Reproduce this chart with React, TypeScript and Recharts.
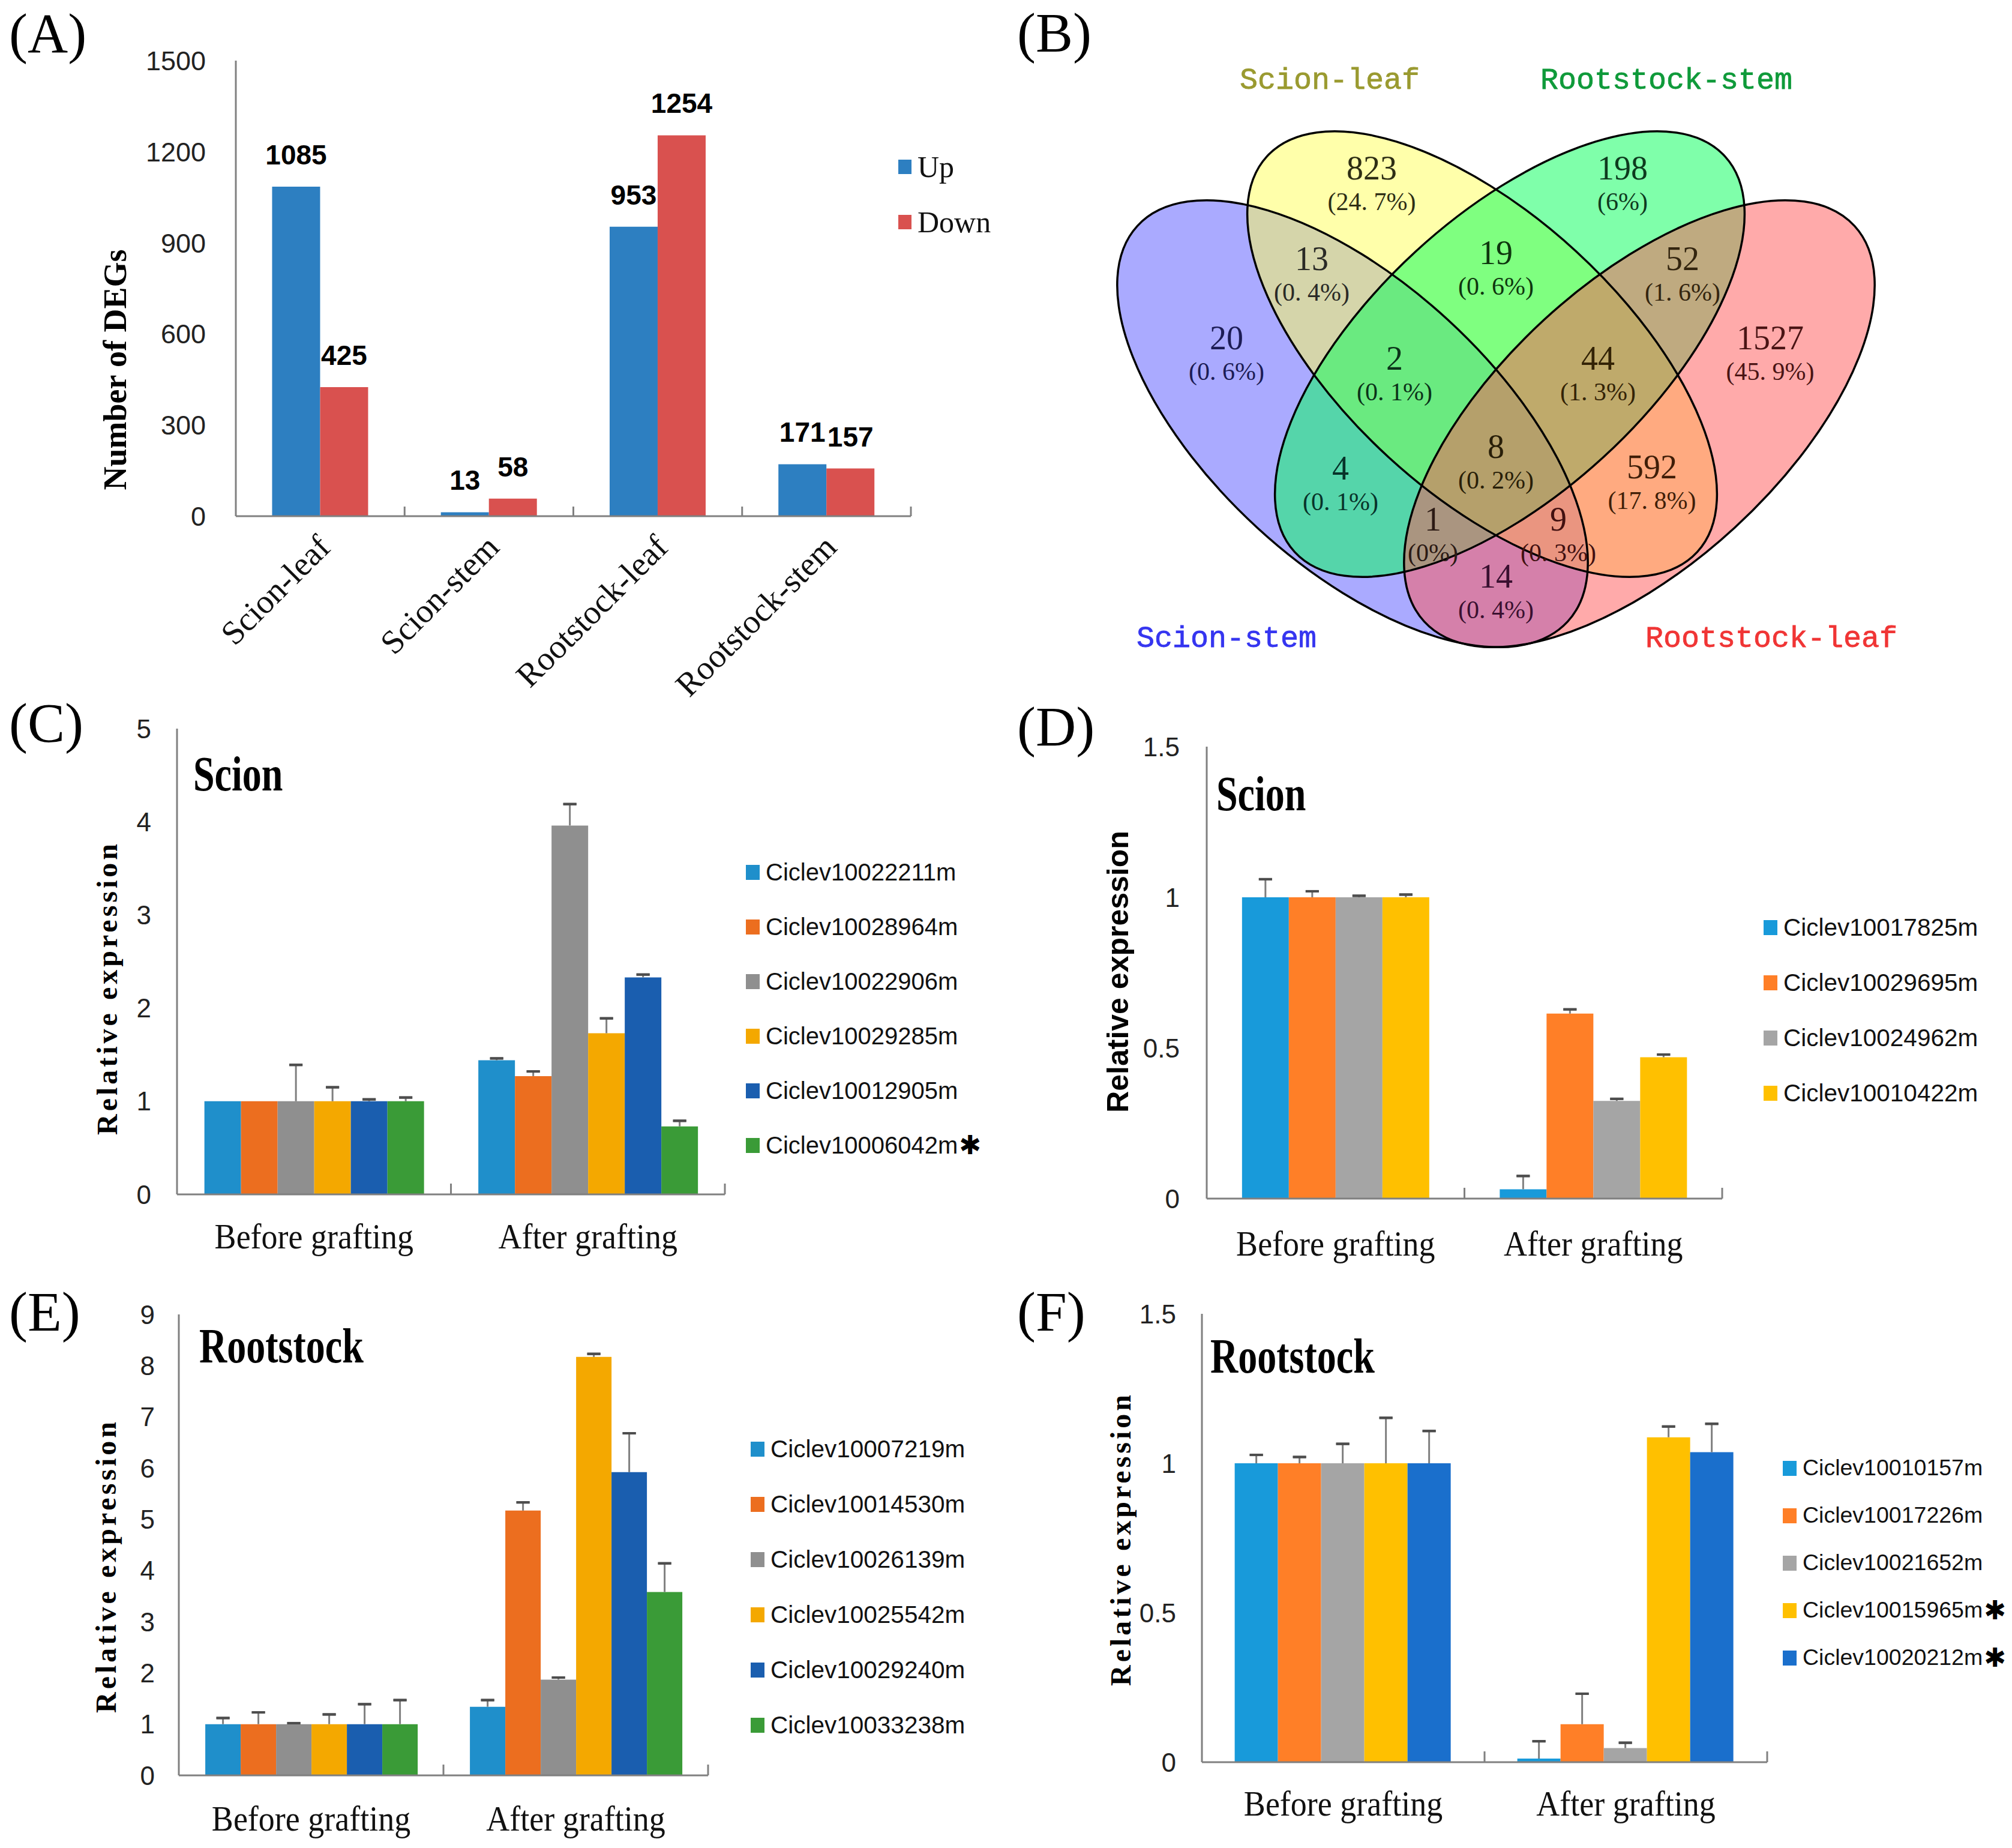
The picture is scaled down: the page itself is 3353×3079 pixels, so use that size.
import React from 'react';
import {
  BarChart,
  Bar,
  XAxis,
  YAxis,
  LabelList,
  Legend,
  ErrorBar,
  ScatterChart,
  Scatter,
} from 'recharts';

const SERIF = "'Liberation Serif','Times New Roman',serif";
const SANS = "'Liberation Sans',Arial,sans-serif";
const MONO = "'Liberation Mono','Courier New',monospace";
const STAR = "'DejaVu Sans',sans-serif";
const AXIS = '#808080';

// ---------------- Panel A data ----------------
const degCategories = ['Scion-leaf', 'Scion-stem', 'Rootstock-leaf', 'Rootstock-stem'];
const degSeries = ['Up', 'Down'];
const degUp = [1085, 13, 953, 171];
const degDown = [425, 58, 1254, 157];
const degTicks = [0, 300, 600, 900, 1200, 1500];

// ---------------- Panel B data ----------------
const vennSetNames = ['Scion-stem', 'Scion-leaf', 'Rootstock-stem', 'Rootstock-leaf'];
const vennCounts = [20, 823, 198, 1527, 13, 19, 52, 2, 44, 4, 8, 592, 1, 9, 14];
const vennPercents = ['0. 6%', '24. 7%', '6%', '45. 9%', '0. 4%', '0. 6%', '1. 6%', '0. 1%', '1. 3%', '0. 1%', '0. 2%', '17. 8%', '0%', '0. 3%', '0. 4%'];

// ---------------- Panels C-F data ----------------
const graftGroups = ['Before grafting', 'After grafting'];

const cGenes = ['Ciclev10022211m', 'Ciclev10028964m', 'Ciclev10022906m', 'Ciclev10029285m', 'Ciclev10012905m', 'Ciclev10006042m'];
const cStarred = [false, false, false, false, false, true];
const cBefore = [1, 1, 1, 1, 1, 1];
const cBeforeErr = [0, 0, 0.39, 0.15, 0.02, 0.04];
const cAfter = [1.44, 1.27, 3.96, 1.73, 2.33, 0.73];
const cAfterErr = [0.02, 0.05, 0.23, 0.16, 0.03, 0.06];
const cTicks = [0, 1, 2, 3, 4, 5];

const dGenes = ['Ciclev10017825m', 'Ciclev10029695m', 'Ciclev10024962m', 'Ciclev10010422m'];
const dStarred = [false, false, false, false];
const dBefore = [1, 1, 1, 1];
const dBeforeErr = [0.06, 0.02, 0.005, 0.009];
const dAfter = [0.031, 0.614, 0.324, 0.469];
const dAfterErr = [0.044, 0.014, 0.007, 0.009];
const dTicks = [0, 0.5, 1, 1.5];

const eGenes = ['Ciclev10007219m', 'Ciclev10014530m', 'Ciclev10026139m', 'Ciclev10025542m', 'Ciclev10029240m', 'Ciclev10033238m'];
const eStarred = [false, false, false, false, false, false];
const eBefore = [1, 1, 1, 1, 1, 1];
const eBeforeErr = [0.12, 0.23, 0.02, 0.19, 0.39, 0.47];
const eAfter = [1.34, 5.17, 1.87, 8.17, 5.92, 3.58];
const eAfterErr = [0.13, 0.16, 0.04, 0.06, 0.76, 0.56];
const eTicks = [0, 1, 2, 3, 4, 5, 6, 7, 8, 9];

const fGenes = ['Ciclev10010157m', 'Ciclev10017226m', 'Ciclev10021652m', 'Ciclev10015965m', 'Ciclev10020212m'];
const fStarred = [false, false, false, true, true];
const fBefore = [1, 1, 1, 1, 1];
const fBeforeErr = [0.028, 0.021, 0.065, 0.152, 0.108];
const fAfter = [0.012, 0.127, 0.047, 1.087, 1.037];
const fAfterErr = [0.058, 0.102, 0.018, 0.036, 0.095];
const fTicks = [0, 0.5, 1, 1.5];

// ---------------- styles / layout ----------------
const degColors = ['#2D7FC1', '#D9514F'];
const cePalette = ['#1F8FCB', '#EC6E1F', '#8F8F8F', '#F4A800', '#1A5EAF', '#3A9B37'];
const dPalette = ['#189ADA', '#FF7F27', '#A5A5A5', '#FFC000'];
const fPalette = ['#189ADA', '#FF7F27', '#A5A5A5', '#FFC000', '#1A6FCC'];

const vennEllipseLayout = [
  { x: 2254, y: 706, rx: 487, ry: 235, rot: 42.6, fill: '#5555FF' },
  { x: 2470, y: 590, rx: 487, ry: 232, rot: 42.6, fill: '#FFFF55' },
  { x: 2516, y: 590, rx: 487, ry: 232, rot: -42.6, fill: '#00FF55' },
  { x: 2732, y: 706, rx: 487, ry: 235, rot: -42.6, fill: '#FF5555' },
];
const vennSetLabelLayout = [
  { x: 2044, y: 1078, color: '#3535F0' },
  { x: 2216, y: 148, color: '#9A9A30' },
  { x: 2777, y: 148, color: '#0F9A3A' },
  { x: 2952, y: 1078, color: '#F03535' },
];
const vennRegionLayout = [
  { x: 2044, y: 568, color: '#1C1C55' },
  { x: 2286, y: 285, color: '#2E2E14' },
  { x: 2704, y: 285, color: '#0E3A1E' },
  { x: 2950, y: 568, color: '#4A1414' },
  { x: 2186, y: 436, color: '#2A2A26' },
  { x: 2493, y: 426, color: '#0E360E' },
  { x: 2804, y: 436, color: '#33250F' },
  { x: 2324, y: 602, color: '#0B3319' },
  { x: 2663, y: 602, color: '#332306' },
  { x: 2234, y: 785, color: '#08332A' },
  { x: 2493, y: 749, color: '#281E08' },
  { x: 2753, y: 783, color: '#401E08' },
  { x: 2388, y: 870, color: '#2C1A14' },
  { x: 2597, y: 870, color: '#421010' },
  { x: 2493, y: 965, color: '#3A1030' },
];

// ---------------- helpers ----------------
function buildRows(before: number[], after: number[], beforeErr: number[], afterErr: number[]) {
  return graftGroups.map((g, gi) => {
    const vals = gi === 0 ? before : after;
    const errs = gi === 0 ? beforeErr : afterErr;
    const row: any = { group: g };
    vals.forEach((v, i) => {
      const e = errs[i];
      row['v' + i] = v;
      row['s' + i] = e > 0 ? [0, e] : null;
      row['c' + i] = e > 0 ? [-e, e] : null;
    });
    return row;
  });
}

function YTitle(props: any) {
  const { tx, ty, text, fs, ff, ls } = props;
  return (
    <text
      x={tx}
      y={ty}
      transform={`rotate(-90 ${tx} ${ty})`}
      textAnchor="middle"
      fontFamily={ff}
      fontWeight="bold"
      fontSize={fs}
      letterSpacing={ls}
      fill="#000"
    >
      {text}
    </text>
  );
}

function CatTick(props: any) {
  const { x, y, payload, band, dy } = props;
  const bx = x + band / 2;
  return (
    <g>
      <text
        transform={`translate(${x} ${y + dy}) scale(1 1.1)`}
        textAnchor="middle"
        fontFamily={SERIF}
        fontSize={54}
        fill="#111"
      >
        {payload.value}
      </text>
      <line x1={bx} x2={bx} y1={y} y2={y - 18} stroke={AXIS} strokeWidth={3} />
    </g>
  );
}

function RotTick(props: any) {
  const { x, y, payload, band } = props;
  const ax = x + 20;
  const ay = y + 55;
  const bx = x + band / 2;
  return (
    <g>
      <text
        x={ax}
        y={ay}
        transform={`rotate(-45 ${ax} ${ay})`}
        textAnchor="end"
        fontFamily={SERIF}
        fontSize={56}
        fill="#111"
      >
        {payload.value}
      </text>
      <line x1={bx} x2={bx} y1={y} y2={y - 16} stroke={AXIS} strokeWidth={3} />
    </g>
  );
}

function makeLegend(opts: any) {
  return (props: any) => {
    const order: string[] = opts.order;
    const payload = (props.payload || []).slice().sort(
      (a: any, b: any) => order.indexOf(a.value) - order.indexOf(b.value)
    );
    return (
      <div>
        {payload.map((p: any) => {
          const idx = order.indexOf(p.value);
          return (
            <div
              key={p.value}
              style={{ height: opts.rowH, display: 'flex', alignItems: 'center', whiteSpace: 'nowrap' }}
            >
              <span
                style={{
                  display: 'inline-block',
                  flex: 'none',
                  width: opts.sqW,
                  height: opts.sqH,
                  background: p.color,
                  marginRight: opts.gap,
                }}
              />
              <span style={{ fontFamily: opts.font, fontSize: opts.fontSize, color: '#111', lineHeight: 1 }}>
                {p.value}
              </span>
              {opts.starred && opts.starred[idx] ? (
                <span style={{ fontFamily: STAR, fontWeight: 'bold', fontSize: 44, lineHeight: 1, marginLeft: 2 }}>
                  ✱
                </span>
              ) : null}
            </div>
          );
        })}
      </div>
    );
  };
}

// ---------------- Panel A ----------------
function DegPanel() {
  const rows = degCategories.map((c, i) => ({ cat: c, up: degUp[i], down: degDown[i] }));
  const W = 1680;
  const H = 1200;
  const margin = { top: 101, right: 162, bottom: 90, left: 0 };
  const yW = 393;
  const band = (W - margin.left - margin.right - yW) / degCategories.length;
  const labelStyle = { fontFamily: SANS, fontWeight: 'bold' as const, fontSize: 46, fill: '#000' };
  return (
    <div style={{ position: 'absolute', left: 0, top: 0 }}>
      <BarChart width={W} height={H} data={rows} margin={margin} barGap={0} barCategoryGap="21.5%">
        <XAxis
          dataKey="cat"
          interval={0}
          tickLine={false}
          tickSize={0}
          tickMargin={0}
          height={250}
          axisLine={{ stroke: AXIS, strokeWidth: 3 }}
          tick={(p: any) => <RotTick {...p} band={band} />}
        />
        <YAxis
          domain={[0, 1500]}
          ticks={degTicks}
          interval={0}
          width={yW}
          tickLine={false}
          tickSize={0}
          tickMargin={50}
          allowDataOverflow
          axisLine={{ stroke: AXIS, strokeWidth: 3 }}
          tick={{ fontFamily: SANS, fontSize: 45, fill: '#222' }}
          label={<YTitle tx={210} ty={616} text="Number of DEGs" fs={54} ff={SERIF} ls={0} />}
        />
        <Legend
          layout="vertical"
          align="center"
          verticalAlign="middle"
          wrapperStyle={{ left: 1497, top: 232, width: 'auto' }}
          content={makeLegend({ order: degSeries, rowH: 92, sqW: 22, sqH: 24, gap: 10, font: SERIF, fontSize: 50 })}
        />
        <Bar dataKey="up" name={degSeries[0]} fill={degColors[0]} isAnimationActive={false}>
          <LabelList dataKey="up" position="top" offset={37} {...labelStyle} />
        </Bar>
        <Bar dataKey="down" name={degSeries[1]} fill={degColors[1]} isAnimationActive={false}>
          <LabelList dataKey="down" position="top" offset={37} {...labelStyle} />
        </Bar>
      </BarChart>
    </div>
  );
}

// ---------------- Panel B ----------------
function EllipseFill(props: any) {
  const { cx, cy, payload } = props;
  return (
    <ellipse
      cx={cx}
      cy={cy}
      rx={payload.rx}
      ry={payload.ry}
      transform={`rotate(${payload.rot} ${cx} ${cy})`}
      fill={payload.fill}
      fillOpacity={0.5}
      stroke="none"
    />
  );
}
function EllipseLine(props: any) {
  const { cx, cy, payload } = props;
  return (
    <ellipse
      cx={cx}
      cy={cy}
      rx={payload.rx}
      ry={payload.ry}
      transform={`rotate(${payload.rot} ${cx} ${cy})`}
      fill="none"
      stroke="#000"
      strokeWidth={3.5}
    />
  );
}
function RegionLabel(props: any) {
  const { cx, cy, payload } = props;
  return (
    <g>
      <text x={cx} y={cy - 5} textAnchor="middle" dominantBaseline="central" fontFamily={SERIF} fontSize={56} fill={payload.color}>
        {payload.count}
      </text>
      <text x={cx} y={cy + 51} textAnchor="middle" dominantBaseline="central" fontFamily={SERIF} fontSize={42} fill={payload.color}>
        ({payload.pct})
      </text>
    </g>
  );
}
function SetLabel(props: any) {
  const { cx, cy, payload } = props;
  return (
    <text
      x={cx}
      y={cy}
      textAnchor="middle"
      fontFamily={MONO}
      fontSize={50}
      fill={payload.color}
      stroke={payload.color}
      strokeWidth={0.8}
    >
      {payload.name}
    </text>
  );
}

function VennPanel() {
  const ellipses = vennEllipseLayout.map((e, i) => ({ ...e, name: vennSetNames[i] }));
  const sets = vennSetLabelLayout.map((s, i) => ({ ...s, name: vennSetNames[i] }));
  const regions = vennRegionLayout.map((r, i) => ({ ...r, count: vennCounts[i], pct: vennPercents[i] }));
  return (
    <div style={{ position: 'absolute', left: 1680, top: 0 }}>
      <ScatterChart width={1673} height={1120} margin={{ top: 0, right: 0, bottom: 0, left: 0 }}>
        <XAxis type="number" dataKey="x" domain={[1680, 3353]} hide allowDataOverflow height={0} />
        <YAxis type="number" dataKey="y" domain={[0, 1120]} reversed hide allowDataOverflow width={0} />
        <Scatter data={ellipses} shape={EllipseFill} isAnimationActive={false} />
        <Scatter data={ellipses} shape={EllipseLine} isAnimationActive={false} />
        <Scatter data={regions} shape={RegionLabel} isAnimationActive={false} />
        <Scatter data={sets} shape={SetLabel} isAnimationActive={false} />
      </ScatterChart>
    </div>
  );
}

// ---------------- Panels C-F ----------------
function ExprPanel({ cfg }: { cfg: any }) {
  const rows = buildRows(cfg.before, cfg.after, cfg.beforeErr, cfg.afterErr);
  const plotW = cfg.width - cfg.margin.left - cfg.margin.right - cfg.yW;
  const band = plotW / graftGroups.length;
  return (
    <div style={{ position: 'absolute', left: cfg.left, top: cfg.top }}>
      <BarChart width={cfg.width} height={cfg.height} data={rows} margin={cfg.margin} barGap={0} barCategoryGap={cfg.gap}>
        <XAxis
          dataKey="group"
          interval={0}
          tickLine={false}
          tickSize={0}
          tickMargin={0}
          height={cfg.xH}
          axisLine={{ stroke: AXIS, strokeWidth: 3 }}
          tick={(p: any) => <CatTick {...p} band={band} dy={cfg.catDy} />}
        />
        <YAxis
          domain={cfg.domain}
          ticks={cfg.ticks}
          interval={0}
          width={cfg.yW}
          tickLine={false}
          tickSize={0}
          tickMargin={cfg.tickGap}
          allowDataOverflow
          axisLine={{ stroke: AXIS, strokeWidth: 3 }}
          tick={{ fontFamily: SANS, fontSize: 44, fill: '#222' }}
          label={<YTitle tx={cfg.yLab.x} ty={cfg.yLab.y} text="Relative expression" fs={cfg.yLab.fs} ff={cfg.yLab.ff} ls={cfg.yLab.ls} />}
        />
        <Legend
          layout="vertical"
          align="center"
          verticalAlign="middle"
          wrapperStyle={{ left: cfg.legend.left, top: cfg.legend.top, width: 'auto' }}
          content={makeLegend({
            order: cfg.genes,
            rowH: cfg.legend.rowH,
            sqW: 23,
            sqH: 25,
            gap: 10,
            font: SANS,
            fontSize: cfg.legend.fs,
            starred: cfg.starred,
          })}
        />
        {cfg.genes.map((g: string, i: number) => (
          <Bar key={g} dataKey={'v' + i} name={g} fill={cfg.colors[i]} isAnimationActive={false}>
            <ErrorBar dataKey={'s' + i} direction="y" width={0} stroke="#7F7F7F" strokeWidth={3} />
            <ErrorBar dataKey={'c' + i} direction="y" width={11} stroke="#4D4D4D" strokeWidth={4} />
          </Bar>
        ))}
      </BarChart>
    </div>
  );
}

const panelC = {
  left: 0, top: 1140, width: 1680, height: 1000,
  margin: { top: 74, right: 472, bottom: 30, left: 0 }, yW: 295, xH: 120, gap: '10%',
  domain: [0, 5], ticks: cTicks, tickGap: 43, catDy: 90,
  genes: cGenes, colors: cePalette, starred: cStarred,
  before: cBefore, after: cAfter, beforeErr: cBeforeErr, afterErr: cAfterErr,
  legend: { left: 1243, top: 267.5, rowH: 91, fs: 40 },
  yLab: { x: 195, y: 506, fs: 48, ff: SERIF, ls: 5 },
};
const panelD = {
  left: 1680, top: 1140, width: 1673, height: 1000,
  margin: { top: 104, right: 483, bottom: 23, left: 0 }, yW: 331, xH: 120, gap: '13.7%',
  domain: [0, 1.5], ticks: dTicks, tickGap: 45, catDy: 95,
  genes: dGenes, colors: dPalette, starred: dStarred,
  before: dBefore, after: dAfter, beforeErr: dBeforeErr, afterErr: dAfterErr,
  legend: { left: 1259, top: 359, rowH: 92, fs: 40.5 },
  yLab: { x: 200, y: 479, fs: 50, ff: SANS, ls: 0 },
};
const panelE = {
  left: 0, top: 2120, width: 1680, height: 959,
  margin: { top: 70, right: 500, bottom: 11, left: 0 }, yW: 298, xH: 110, gap: '10%',
  domain: [0, 9], ticks: eTicks, tickGap: 40, catDy: 92,
  genes: eGenes, colors: cePalette, starred: eStarred,
  before: eBefore, after: eAfter, beforeErr: eBeforeErr, afterErr: eAfterErr,
  legend: { left: 1251, top: 248, rowH: 92, fs: 40.5 },
  yLab: { x: 193, y: 489, fs: 48, ff: SERIF, ls: 5 },
};
const panelF = {
  left: 1680, top: 2120, width: 1673, height: 959,
  margin: { top: 69, right: 408, bottom: 23, left: 0 }, yW: 323, xH: 120, gap: '11.6%',
  domain: [0, 1.5], ticks: fTicks, tickGap: 43, catDy: 89,
  genes: fGenes, colors: fPalette, starred: fStarred,
  before: fBefore, after: fAfter, beforeErr: fBeforeErr, afterErr: fAfterErr,
  legend: { left: 1291, top: 286.5, rowH: 79, fs: 37.5 },
  yLab: { x: 204, y: 444, fs: 48, ff: SERIF, ls: 5 },
};

const panelLetters = [
  { t: '(A)', x: 15, y: 87 },
  { t: '(B)', x: 1695, y: 86 },
  { t: '(C)', x: 15, y: 1236 },
  { t: '(D)', x: 1695, y: 1242 },
  { t: '(E)', x: 15, y: 2217 },
  { t: '(F)', x: 1695, y: 2217 },
];
const panelTitles = [
  { t: 'Scion', x: 322, y: 1317 },
  { t: 'Scion', x: 2027, y: 1350 },
  { t: 'Rootstock', x: 332, y: 2270 },
  { t: 'Rootstock', x: 2017, y: 2287 },
];

export default function App() {
  return (
    <div style={{ position: 'absolute', left: 0, top: 0, width: 3353, height: 3079, background: '#fff', overflow: 'hidden' }}>
      <DegPanel />
      <VennPanel />
      <ExprPanel cfg={panelC} />
      <ExprPanel cfg={panelD} />
      <ExprPanel cfg={panelE} />
      <ExprPanel cfg={panelF} />
      <svg width={3353} height={3079} style={{ position: 'absolute', left: 0, top: 0, pointerEvents: 'none' }}>
        {panelLetters.map((p) => (
          <text key={p.t} x={p.x} y={p.y} fontFamily={SERIF} fontSize={93} fill="#000">
            {p.t}
          </text>
        ))}
        {panelTitles.map((p, i) => (
          <text
            key={i}
            transform={`translate(${p.x} ${p.y}) scale(1 1.28)`}
            fontFamily={SERIF}
            fontWeight="bold"
            fontSize={64}
            fill="#000"
          >
            {p.t}
          </text>
        ))}
      </svg>
    </div>
  );
}
